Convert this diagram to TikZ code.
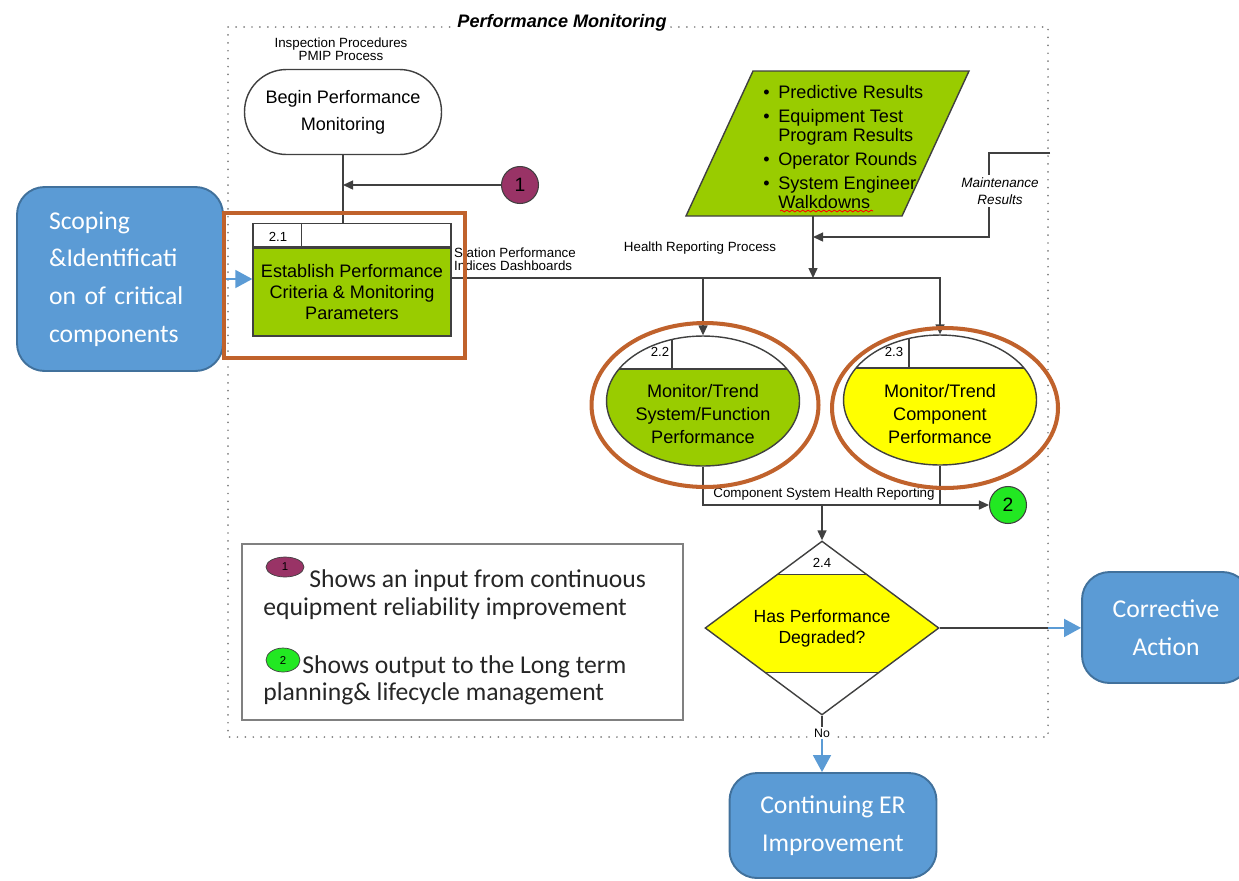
\documentclass[tikz,border=0pt]{standalone}
\usepackage{fontspec}
\setmainfont{Liberation Sans}
\newfontfamily\calibfont{Carlito}
\usetikzlibrary{shapes.geometric,positioning,arrows.meta,decorations.pathmorphing}

\definecolor{procgreen}{HTML}{99CC00}
\definecolor{procyellow}{HTML}{FFFF00}
\definecolor{boxblue}{HTML}{5B9BD5}
\definecolor{boxblueline}{HTML}{41719C}
\definecolor{hlorange}{RGB}{192,98,44}
\definecolor{conpurple}{RGB}{153,51,102}
\definecolor{congreen}{RGB}{34,232,34}
\definecolor{linegray}{RGB}{64,64,64}
\definecolor{legendtext}{RGB}{38,38,38}

\newcommand{\diagfont}{\fontsize{10.3}{11.9}\selectfont}
\newcommand{\smallfont}{\fontsize{7.6}{7.6}\selectfont}
\newcommand{\bul}{\makebox[0.3cm][l]{\textbullet}}

\tikzstyle{wire} = [draw=linegray, line width=0.8pt]
\tikzstyle{arrow} = [wire, -{Triangle[length=0.2cm,width=0.18cm]}]
\tikzstyle{bluearrow} = [draw=boxblue, line width=1pt, -{Triangle[length=0.34cm,width=0.36cm]}]
\tikzstyle{dotframe} = [draw=gray, line width=1.1pt, dash pattern=on 0pt off 4.5pt, line cap=round]
\tikzstyle{startstop} = [rectangle, rounded corners=0.84cm, minimum width=3.94cm, minimum height=1.7cm, draw=linegray, line width=0.8pt, fill=white, align=center, font=\fontsize{10.3}{15.3}\selectfont]
\tikzstyle{procbody} = [rectangle, draw=linegray, line width=0.8pt, fill=procgreen, minimum width=3.96cm, minimum height=1.76cm, inner sep=0pt, align=center, font=\diagfont]
\tikzstyle{prochead} = [rectangle, draw=linegray, line width=0.8pt, fill=white, minimum width=3.96cm, minimum height=0.46cm, inner sep=0pt]
\tikzstyle{procell} = [ellipse, draw=linegray, line width=0.8pt, minimum width=3.86cm, minimum height=2.6cm, inner sep=0pt,
    path picture={
        \fill[white] (path picture bounding box.north west) rectangle ([yshift=-0.66cm]path picture bounding box.north east);
        \draw[wire] ([yshift=-0.66cm]path picture bounding box.north west) -- ([yshift=-0.66cm]path picture bounding box.north east);
        \draw[wire] ([xshift=-0.62cm]path picture bounding box.north) -- ([xshift=-0.62cm,yshift=-0.66cm]path picture bounding box.north);
    }]
\tikzstyle{decision} = [diamond, draw=linegray, line width=0.8pt, fill=procyellow, minimum width=4.68cm, minimum height=3.38cm, inner sep=0pt, align=center, font=\fontsize{10}{11.9}\selectfont,
    path picture={
        \fill[white] (path picture bounding box.north west) rectangle ([yshift=-0.66cm]path picture bounding box.north east);
        \fill[white] (path picture bounding box.south west) rectangle ([yshift=0.84cm]path picture bounding box.south east);
        \draw[wire] ([yshift=-0.66cm]path picture bounding box.north west) -- ([yshift=-0.66cm]path picture bounding box.north east);
        \draw[wire] ([yshift=0.84cm]path picture bounding box.south west) -- ([yshift=0.84cm]path picture bounding box.south east);
    }]
\tikzstyle{proctext} = [align=center, font=\fontsize{10.3}{13.3}\selectfont, inner sep=0pt]
\tikzstyle{numtext} = [font=\fontsize{7.5}{7.5}\selectfont, inner sep=0pt]
\tikzstyle{smalltext} = [align=center, font=\smallfont, inner sep=1pt]
\tikzstyle{bluebox} = [rectangle, rounded corners=0.55cm, draw=boxblueline, line width=1.1pt, fill=boxblue, text=white, align=center, font=\calibfont\fontsize{14.6}{21.5}\selectfont]
\tikzstyle{connector} = [circle, draw=linegray, line width=0.6pt, minimum size=0.74cm, inner sep=0pt, font=\fontsize{11}{11}\selectfont]
\tikzstyle{legcirc} = [ellipse, draw=linegray, line width=0.4pt, inner sep=0pt, font=\fontsize{6.5}{6.5}\selectfont]
\tikzstyle{legtext} = [anchor=base west, inner sep=0pt, text=legendtext, font=\calibfont\fontsize{14.6}{16}\selectfont]
\tikzstyle{hlrect} = [rectangle, draw=hlorange, line width=2.3pt]
\tikzstyle{hlell} = [ellipse, draw=hlorange, line width=2.3pt]

\begin{document}
\begin{tikzpicture}[x=0.02cm, y=-0.02cm]
    \useasboundingbox (0,0) rectangle (1239,880);
    % Marco
    \draw[dotframe] (228,27) rectangle (1048,737);
    \node (title) [fill=white, inner sep=2pt, font=\fontsize{10.3}{12}\selectfont\bfseries\itshape] at (562,23) {Performance Monitoring};

    % Cajas
    \node (insp) [smalltext] at (341,49) {Inspection Procedures\\PMIP Process};
    \node (begin) [startstop] at (343,112) {Begin Performance\\Monitoring};
    \node (c1) [connector, fill=conpurple] at (520,185) {1};

    \node (p21) [procbody] at (352,292) {Establish Performance\\Criteria \& Monitoring\\Parameters};
    \node (p21h) [prochead, above=0pt of p21] {};
    \draw[wire] ([xshift=0.98cm]p21h.north west) -- ([xshift=0.98cm]p21h.south west);
    \node (n21) [numtext] at (278,237) {2.1};

    \node (scope) [bluebox, minimum width=4.12cm, minimum height=3.68cm, text width=2.84cm, align=left] at (120,279) {Scoping\\\&Identificati\\on of critical\\components};

    \node (spi) [smalltext, align=left, anchor=west] at (452,259) {Station Performance\\Indices Dashboards};
    \node (hrp) [smalltext] at (700,248) {Health Reporting Process};

    \fill[procgreen, draw=linegray, line width=0.8pt] (753,71) -- (969,71) -- (902,216) -- (686,216) -- cycle;
    \node (inputs) [anchor=north west, inner sep=0pt, align=left, font=\fontsize{10.3}{11}\selectfont] at (763,85)
        {\bul Predictive Results\\[2.6pt]
         \bul Equipment Test\\ \hspace*{0.3cm}Program Results\\[2.6pt]
         \bul Operator Rounds\\[2.6pt]
         \bul System Engineer\\ \hspace*{0.3cm}Walkdowns};
    \draw[red, line width=0.5pt, decorate, decoration={snake, amplitude=0.5pt, segment length=3pt}] (780,211) -- (873,211);
    \coordinate (inbot) at (813,216);
    \coordinate (bus) at (813,278);
    \coordinate (mfar) at (1050,153);
    \coordinate (mjoin) at (813,237);

    \node (p22) [procell, fill=procgreen] at (703,401) {};
    \node (p22t) [proctext] at (703,414) {Monitor/Trend\\System/Function\\Performance};
    \node (n22) [numtext] at (660,352) {2.2};
    \node (p23) [procell, fill=procyellow] at (940,400) {};
    \node (p23t) [proctext] at (940,414) {Monitor/Trend\\Component\\Performance};
    \node (n23) [numtext] at (894,352) {2.3};

    \node (c2) [connector, fill=congreen] at (1008,505) {2};
    \node (chr) [smalltext] at (824,494) {Component System Health Reporting};

    \node (d24) [decision] at (822,628) {Has Performance\\Degraded?};
    \node (n24) [numtext] at (822,563) {2.4};
    \coordinate (fr) at (1048,628);
    \node (no) [smalltext, fill=white, font=\fontsize{7}{7}\selectfont] at (822,733) {No};

    \node (ca) [bluebox, minimum width=3.36cm, minimum height=2.22cm] at (1166,627.5) {Corrective\\Action};
    \node (cer) [bluebox, minimum width=4.14cm, minimum height=2.1cm] at (833,825.5) {Continuing ER\\Improvement};

    % Leyenda
    \node (legend) [rectangle, draw=gray, line width=0.8pt, minimum width=8.82cm, minimum height=3.52cm] at (462.5,632) {};
    \node (l1) [legcirc, fill=conpurple, minimum width=0.76cm, minimum height=0.4cm] at (285,567) {1};
    \node (l2) [legcirc, fill=congreen, minimum width=0.68cm, minimum height=0.48cm] at (283,660) {2};
    \node (t1a) [legtext] at (309,587) {Shows an input from continuous};
    \node (t1b) [legtext] at (263,615) {equipment reliability improvement};
    \node (t2a) [legtext] at (302,673) {Shows output to the Long term};
    \node (t2b) [legtext] at (263,700) {planning\& lifecycle management};

    % Flechas
    \draw[wire] (begin) -- (begin |- p21h.north);
    \draw[arrow] (c1) -- (c1 -| begin);
    \draw[bluearrow] (scope) -- (p21.west |- scope);
    \draw[arrow] (p21.east |- bus) -| (p23);
    \draw[arrow] (p22 |- bus) -- (p22);
    \draw[arrow] (inbot) -- (bus);
    \draw[arrow] (mfar) -| (989,237) -- (mjoin);
    \node (mres) [fill=white, inner sep=1pt, align=center, font=\fontsize{7.7}{10}\selectfont\itshape] at (1000,191) {Maintenance\\Results};
    \draw[arrow] (p22) |- (c2);
    \draw[wire] (p23) -- (p23 |- c2);
    \draw[arrow] (d24 |- c2) -- (d24);
    \draw[wire] (d24) -- (fr);
    \draw[bluearrow] (fr) -- (ca);
    \draw[wire] (d24) -- (no);
    \draw[bluearrow] (no) -- (no |- cer.north);

    % Resaltados
    \node (hl21) [hlrect, minimum width=4.82cm, minimum height=2.9cm] at (344.5,285.5) {};
    \node (hl22) [hlell, minimum width=4.54cm, minimum height=3.28cm] at (705,405) {};
    \node (hl23) [hlell, minimum width=4.52cm, minimum height=3.2cm] at (945,408) {};
\end{tikzpicture}
\end{document}
